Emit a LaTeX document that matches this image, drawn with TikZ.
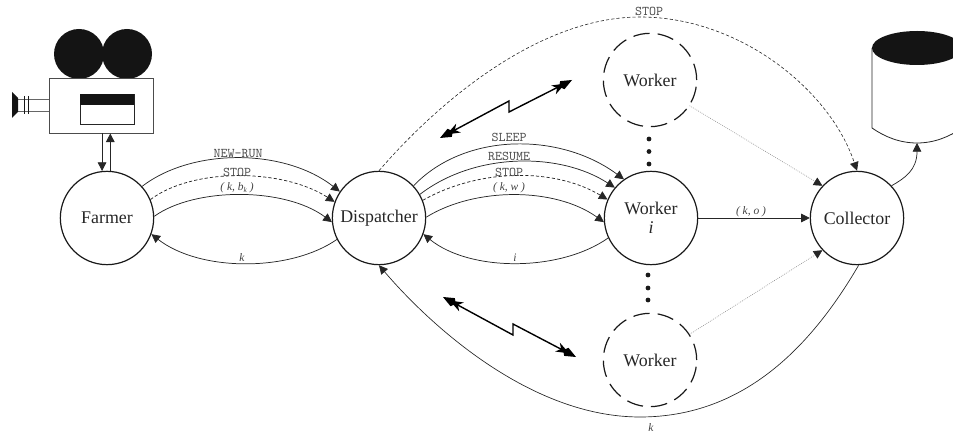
\documentclass[tikz,border=0pt]{standalone}
\usepackage{fontspec}
\setmainfont{Liberation Serif}
\usetikzlibrary{arrows.meta,calc}
\newcommand{\bhead}[4]{\fill[black]
  ({#1},{#2})
  -- ({#1+11*(#3)-4.6*(#4)},{#2+11*(#4)+4.6*(#3)})
  -- ({#1+13*(#3)-2*(#4)},{#2+13*(#4)+2*(#3)})
  -- ({#1+21*(#3)-5*(#4)},{#2+21*(#4)+5*(#3)})
  -- ({#1+17*(#3)},{#2+17*(#4)})
  -- ({#1+21*(#3)+5*(#4)},{#2+21*(#4)-5*(#3)})
  -- ({#1+13*(#3)+2*(#4)},{#2+13*(#4)-2*(#3)})
  -- ({#1+11*(#3)+4.6*(#4)},{#2+11*(#4)-4.6*(#3)}) -- cycle;}
\tikzset{
  px/.style={x=0.75pt,y=-0.75pt},
  proc/.style={circle,draw=black!90,line width=0.9pt,minimum size=70pt,inner sep=0pt,font=\fontsize{13.4}{15}\selectfont,align=center,text=black!85},
  ghost/.style={proc,dash pattern=on 12.4pt off 6pt},
  edge/.style={draw=black!85,line width=0.55pt,-{Triangle[length=6.5pt,width=6.5pt]}},
  dashedge/.style={edge,dash pattern=on 2.4pt off 1.6pt},
  dotedge/.style={draw=black!45,line width=0.45pt,dash pattern=on 0.6pt off 0.9pt,-{Triangle[length=6.5pt,width=6.5pt,black!85]}},
  cmd/.style={font=\ttfamily\fontsize{10}{10}\selectfont,text=black!70,inner sep=0pt},
  lab/.style={font=\itshape\fontsize{8.6}{10}\selectfont,text=black!75,inner sep=0pt},
  bolt/.style={draw=black,line width=1.05pt,shorten <=10pt,shorten >=10pt,line join=miter},
  dotn/.style={circle,fill=black!90,inner sep=0pt,minimum size=3.6pt},
}
\begin{document}
\begin{tikzpicture}[px]
\useasboundingbox (0,0) rectangle (953,434);
\clip (0,0) rectangle (953,434);
% nodes
\node[proc] (f) at (107,218) {Farmer};
\node[proc] (d) at (379,218) {Dispatcher};
\node[proc] (wi) at (651,218) {Worker\\[-1pt]\textit{i}};
\node[proc] (c) at (857,218) {Collector};
\node[ghost] (wt) at (650,80) {Worker};
\node[ghost] (wb) at (650,360) {Worker};
% camera
\fill[black!92] (79,54) circle (25);
\fill[black!92] (127,54) circle (25);
\node[draw=black!70,line width=0.7pt,minimum width=78pt,minimum height=41.25pt,inner sep=0pt,fill=white] (cam) at (101,105.5) {};
\draw[black!85,line width=0.6pt,fill=white] (80,94) rectangle (134,124);
\fill[black!92] (80,94) rectangle (134,105);
\draw[black!60,line width=0.7pt] (49,99) -- (18,99) (49,111) -- (18,111);
\draw[black!90,line width=1.1pt] (24.5,96) -- (24.5,114) (28.5,96) -- (28.5,114);
\fill[black!92] (12,92) -- (18,98) -- (18,112) -- (12,118) -- cycle;
\draw[edge] (f.96 |- cam.south) -- (f.96);
\draw[edge] (f.86) -- (f.86 |- cam.south);
% database
\draw[black!85,line width=0.6pt,fill=white] (872,48) -- (872,128) .. controls (885,137) and (900,143) .. (917,143) .. controls (934,143) and (949,137) .. (962,128) -- (962,48);
\fill[black!92] (917,48) ellipse (45 and 17);
\coordinate (db) at (917,143);
% farmer <-> dispatcher
\draw[edge] (f.42) .. controls (192,148) and (284,148) .. (d.146);
\draw[dashedge] (f.23) .. controls (192,168) and (282,168) .. (d.160);
\draw[edge] (f.2) .. controls (195,187) and (285,187) .. (d.185);
\draw[edge] (d.207) .. controls (290,272) and (200,272) .. (f.-20);
% dispatcher <-> worker
\draw[edge] (d.43) .. controls (465,132) and (560,132) .. (wi.125);
\draw[edge] (d.30) .. controls (475,152) and (560,152) .. (wi.140);
\draw[dashedge] (d.22) .. controls (480,168) and (555,168) .. (wi.157);
\draw[edge] (d.1) .. controls (475,187) and (555,187) .. (wi.185);
\draw[edge] (wi.205) .. controls (560,272) and (470,272) .. (d.-20);
% others
\draw[edge] (wi) -- (c);
\coordinate (peak) at (640,17);
\draw[dashedge,line width=0.45pt] (d.90) .. controls (440,100) and (540,17) .. (peak) .. controls (740,17) and (830,90) .. (c.90);
\draw[dotedge] (wt.-33) -- (c.137);
\draw[dotedge] (wb.33) -- (c.-137);
\coordinate (low) at (640,417);
\draw[edge,line width=0.5pt] (c.-88) .. controls (812,345) and (745,417) .. (low) .. controls (530,417) and (430,325) .. (d.-90);
\draw[edge] (c.43) .. controls (905,178) and (917,170) .. (db);
% dots
\node[dotn] (a1) at (649,139) {};
\node[dotn] (a2) at (649,151.5) {};
\node[dotn] (a3) at (649,164) {};
\node[dotn] (b1) at (648,275) {};
\node[dotn] (b2) at (648,288) {};
\node[dotn] (b3) at (648,300) {};
% bolts
\coordinate (t1) at (440,138); \coordinate (t2) at (509,112); \coordinate (t3) at (509,101); \coordinate (t4) at (572,80);
\draw[bolt] (t1) -- (t3) -- (t2) -- (t4);
\bhead{440}{138}{.88}{-.47}
\bhead{572}{80}{-.88}{.47}
\coordinate (u1) at (443,297); \coordinate (u2) at (513,335); \coordinate (u3) at (513,324); \coordinate (u4) at (576,357);
\draw[bolt] (u1) -- (u2) -- (u3) -- (u4);
\bhead{443}{297}{.88}{.47}
\bhead{576}{357}{-.88}{-.47}
% labels
\node[cmd] (l1) at (238,154) {NEW-RUN};
\node[cmd] (l2) at (237,172) {STOP};
\node[lab] (l3) at (237,188) {( k, b\raisebox{-1pt}{\fontsize{5.5}{6}\selectfont k} )};
\node[lab] (l4) at (242,258) {k};
\node[cmd] (l5) at (509,137) {SLEEP};
\node[cmd] (l6) at (509,156) {RESUME};
\node[cmd] (l7) at (509,172) {STOP};
\node[lab] (l8) at (509,188) {( k, w )};
\node[lab] (l9) at (515,258) {i};
\node[lab] (l10) at (751,212) {( k, o )};
\node[cmd] (l11) at (649,11) {STOP};
\node[lab] (l12) at (651,428) {k};
\end{tikzpicture}
\end{document}
